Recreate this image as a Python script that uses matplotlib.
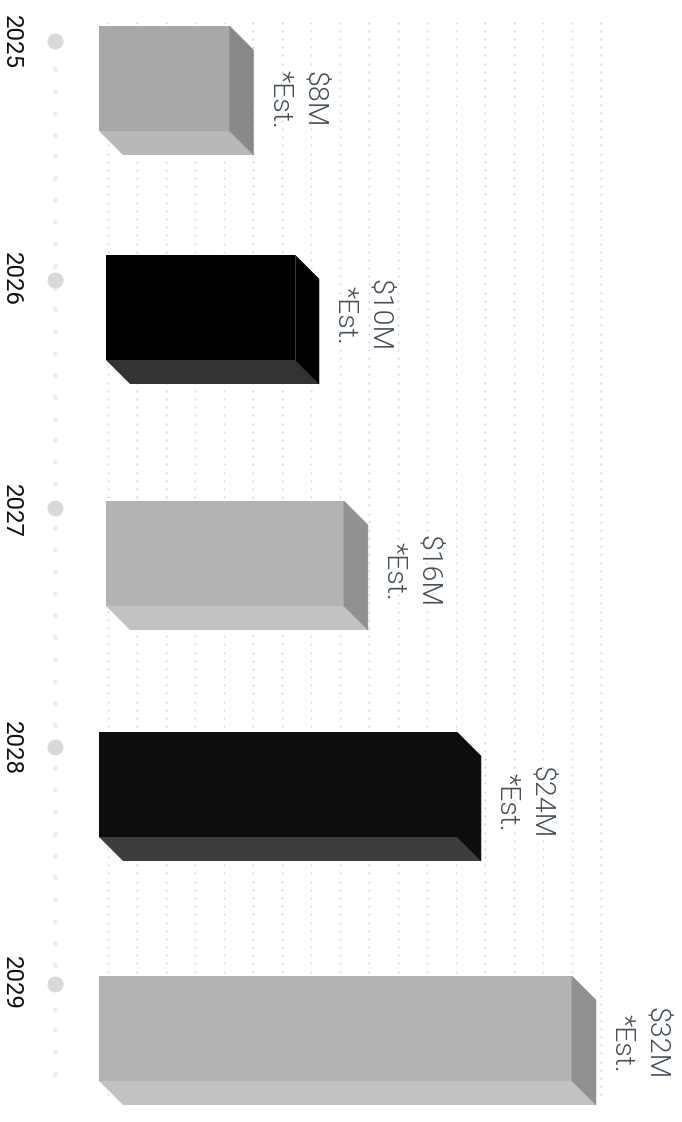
import matplotlib
matplotlib.use("Agg")
import matplotlib.pyplot as plt
import numpy as np
from matplotlib.patches import Polygon

years = ["2025", "2026", "2027", "2028", "2029"]
value_labels = ["$8M", "$10M", "$16M", "$24M", "$32M"]
note_label = "*Est."
# drawn bar lengths, they are not proportional to the labels
bar_lengths = [8.83, 12.79, 16.1, 24.22, 32.0]
bar_starts = [0.0, 0.47, 0.47, 0.0, 0.0]

front_colors = ["#a8a8a8", "#000000", "#b3b3b3", "#0d0d0d", "#b3b3b3"]
side_colors = ["#888888", "#000000", "#919191", "#0d0d0d", "#919191"]
under_colors = ["#b8b8b8", "#333333", "#c2c2c2", "#3d3d3d", "#c2c2c2"]

# layout, in picture pixels
bar_tops = [26, 255, 501, 732, 976]
big_dot_y = [41, 280, 508, 747, 984]
year_y = [41.5, 279, 511, 748, 983]
label_y = [99, 315, 571, 802, 1043]
BAR_H = 105
DEPTH = 24
X0 = 99
PX_PER_UNIT = 14.78


def px(x):
    return (x - X0) / PX_PER_UNIT


plt.rcParams['font.family'] = ['Roboto', 'DejaVu Sans']
fig = plt.figure(figsize=(6.82, 11.22), dpi=100)
ax = fig.add_axes([0, 0, 1, 1])
ax.set_xlim(px(0), px(682))
ax.set_ylim(1122, 0)
ax.axis("off")

# dotted background
gx, gy = np.meshgrid(np.arange(18), np.arange(132))
ax.scatter(px(108 + gx.ravel() * 29), 22.7 + gy.ravel() * 8.18, s=2.2,
           color="#d8d8d8", linewidths=0, zorder=1)

# timeline
ax.scatter(np.full(47, px(55.3)), 69 + np.arange(47) * 21.85, s=13,
           color="#eeeeee", linewidths=0, zorder=1)
ax.scatter(np.full(5, px(55.3)), big_dot_y, s=132,
           color="#d9d9d9", linewidths=0, zorder=2)

depth_x = DEPTH / PX_PER_UNIT
for i in range(len(years)):
    top = bar_tops[i]
    bottom = top + BAR_H
    start = bar_starts[i]
    end = bar_lengths[i] + start
    ax.barh(top + BAR_H / 2, bar_lengths[i], left=start, height=BAR_H,
            color=front_colors[i], linewidth=0, zorder=3)
    ax.add_patch(Polygon([(start, bottom), (start + depth_x, bottom + DEPTH),
                          (end + depth_x, bottom + DEPTH), (end, bottom)],
                         closed=True, color=under_colors[i], linewidth=0, zorder=3))
    ax.add_patch(Polygon([(end, top), (end + depth_x, top + DEPTH),
                          (end + depth_x, bottom + DEPTH), (end, bottom)],
                         closed=True, facecolor=side_colors[i], edgecolor=side_colors[i],
                         linewidth=0.4, zorder=3))
    if front_colors[i] == "#000000":
        # the pure black bar shows a thin seam at its front edge
        ax.plot([end, end], [top, bottom], color="#555555", linewidth=0.5, zorder=4)

    right = end + depth_x
    ax.text(px(11), year_y[i], years[i], rotation=-90, ha="center", va="center",
            fontsize=17.3, color="#111111", zorder=4)
    ax.text(right + 60.5 / PX_PER_UNIT, label_y[i], value_labels[i], rotation=-90,
            ha="center", va="center", fontsize=20.5, fontweight=300,
            color="#444f5a", zorder=4)
    ax.text(right + 26.5 / PX_PER_UNIT, label_y[i], note_label, rotation=-90,
            ha="center", va="center", fontsize=20.5, fontweight=300,
            color="#444f5a", zorder=4)

fig.savefig("out.png", dpi=100)
